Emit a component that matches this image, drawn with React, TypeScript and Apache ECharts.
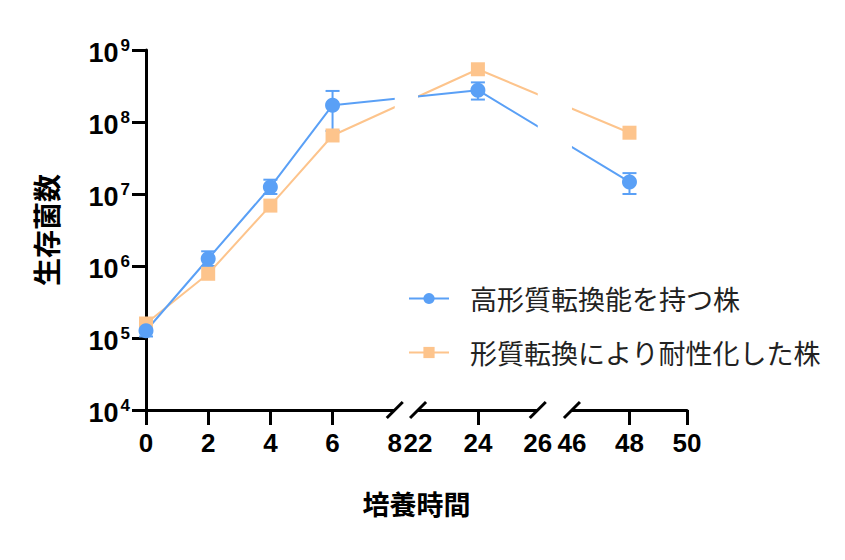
import React, { useEffect, useRef } from "react";
import * as echarts from "echarts";

// ---- data (time in hours, viable counts) ----
const hours = [0, 2, 4, 6, 24, 48];
const highStrain = [1.26e5, 1.26e6, 1.25e7, 1.71e8, 2.77e8, 1.47e7];
const highStrainLow = [1.05e5, 1.0e6, 1.0e7, 7.5e7, 2.05e8, 1.0e7];
const highStrainHigh = [1.45e5, 1.6e6, 1.58e7, 2.7e8, 3.55e8, 1.95e7];
const resistantStrain = [1.59e5, 7.8e5, 6.9e6, 6.5e7, 5.4e8, 7.1e7];

const seriesNames = ["高形質転換能を持つ株", "形質転換により耐性化した株"];
const tickHours = [0, 2, 4, 6, 24, 48, 50];
const labelHours = [0, 2, 4, 6, 8, 22, 24, 26, 46, 48, 50];

// broken x axis: real hour ranges -> display positions
const segments = [
  { t0: 0, t1: 8, d0: 0, d1: 8 },
  { t0: 22, t1: 26, d0: 8.75, d1: 12.6 },
  { t0: 46, t1: 50, d0: 13.7, d1: 17.4 },
];

const toDisplay = (t: number) => {
  for (const s of segments) {
    if (t >= s.t0 && t <= s.t1) return s.d0 + ((t - s.t0) * (s.d1 - s.d0)) / (s.t1 - s.t0);
  }
  return NaN;
};

const BLUE = "#5AA0F6";
const ORANGE = "#FDC48C";

export default function App() {
  const ref = useRef<HTMLDivElement>(null);
  useEffect(() => {
    document.body.style.margin = "0";
    const chart = echarts.init(ref.current!, undefined, { renderer: "svg" });

    const gapData: number[][] = [];
    for (let i = 0; i < segments.length - 1; i++) {
      gapData.push([segments[i].d1, segments[i + 1].d0, 1e4]);
    }
    const breakMarks: number[][] = [];
    segments.forEach((s, i) => {
      if (i > 0) breakMarks.push([s.d0, 1e4]);
      if (i < segments.length - 1) breakMarks.push([s.d1, 1e4]);
    });

    const labelDisplay = labelHours.map(toDisplay);
    const fmtX = (v: number) => {
      for (let i = 0; i < labelHours.length; i++) {
        if (Math.abs(labelDisplay[i] - v) < 1e-6) return String(labelHours[i]);
      }
      return "";
    };

    chart.setOption({
      animation: false,
      grid: { left: 146, right: 158, top: 50, bottom: 150 },
      legend: {
        orient: "vertical",
        left: 403,
        top: 280,
        z: 10,
        itemWidth: 40,
        itemHeight: 14,
        itemGap: 27,
        data: [seriesNames[0], seriesNames[1]],
        formatter: (n: string) => `{a|${n}}`,
        textStyle: {
          rich: {
            a: {
              fontSize: 27,
              lineHeight: 30,
              color: "#222",
              fontFamily: "Noto Sans CJK JP",
              padding: [0, 0, 0, 16],
            },
          },
        },
      },
      xAxis: {
        type: "value",
        min: 0,
        max: segments[segments.length - 1].d1,
        splitLine: { show: false },
        axisLine: { show: true, lineStyle: { color: "#000", width: 3 } },
        axisTick: {
          show: true,
          length: 15,
          lineStyle: { color: "#000", width: 3 },
          customValues: tickHours.map(toDisplay),
        },
        axisLabel: {
          customValues: labelDisplay,
          formatter: fmtX,
          margin: 20,
          color: "#000",
          fontSize: 26,
          fontWeight: "bold",
          fontFamily: "Liberation Sans",
        },
        name: "培養時間",
        nameLocation: "middle",
        nameGap: 80,
        nameTextStyle: {
          fontSize: 27,
          fontWeight: "bold",
          color: "#000",
          fontFamily: "Noto Sans CJK JP",
        },
      },
      yAxis: {
        type: "log",
        logBase: 10,
        min: 1e4,
        max: 1e9,
        interval: 1,
        splitLine: { show: false },
        axisLine: { show: true, lineStyle: { color: "#000", width: 3 } },
        axisTick: { show: true, length: 14, lineStyle: { color: "#000", width: 3 } },
        axisLabel: {
          margin: 16,
          formatter: (v: number) => `{b|10}{s|${Math.round(Math.log10(v))}}`,
          rich: {
            b: { fontSize: 27, fontWeight: "bold", color: "#000", fontFamily: "Liberation Sans", padding: [6, 0, 0, 0] },
            s: {
              fontSize: 17,
              fontWeight: "bold",
              color: "#000",
              fontFamily: "Liberation Sans",
              padding: [0, 0, 10, 2],
            },
          },
        },
        name: "生存菌数",
        nameLocation: "middle",
        nameRotate: 90,
        nameGap: 86,
        nameTextStyle: {
          fontSize: 28,
          fontWeight: "bold",
          color: "#000",
          fontFamily: "Noto Sans CJK JP",
        },
      },
      series: [
        {
          name: seriesNames[1],
          type: "line",
          data: hours.map((h, i) => [toDisplay(h), resistantStrain[i]]),
          symbol: "rect",
          symbolSize: 14,
          lineStyle: { color: ORANGE, width: 2 },
          itemStyle: { color: ORANGE },
          z: 2,
        },
        {
          name: seriesNames[0] + "_err",
          type: "custom",
          coordinateSystem: "cartesian2d",
          data: hours.map((h, i) => [toDisplay(h), highStrainLow[i], highStrainHigh[i]]),
          encode: { x: 0, y: [1, 2] },
          renderItem: (params: any, api: any) => {
            const x = api.value(0);
            const lo = api.coord([x, api.value(1)]);
            const hi = api.coord([x, api.value(2)]);
            const w = 7;
            const style = { stroke: BLUE, lineWidth: 2 };
            return {
              type: "group",
              children: [
                { type: "line", shape: { x1: lo[0], y1: lo[1], x2: hi[0], y2: hi[1] }, style },
                { type: "line", shape: { x1: lo[0] - w, y1: lo[1], x2: lo[0] + w, y2: lo[1] }, style },
                { type: "line", shape: { x1: hi[0] - w, y1: hi[1], x2: hi[0] + w, y2: hi[1] }, style },
              ],
            };
          },
          z: 2,
          silent: true,
        },
        {
          name: seriesNames[0],
          type: "line",
          data: hours.map((h, i) => [toDisplay(h), highStrain[i]]),
          symbol: "circle",
          symbolSize: 15,
          lineStyle: { color: BLUE, width: 2 },
          itemStyle: { color: BLUE },
          z: 2,
        },
        {
          name: "gapMask",
          type: "custom",
          coordinateSystem: "cartesian2d",
          data: gapData,
          encode: { x: [0, 1], y: 2 },
          clip: false,
          silent: true,
          renderItem: (params: any, api: any) => {
            const a = api.coord([api.value(0), 1e9]);
            const m = api.coord([api.value(0), 1e6]);
            const b = api.coord([api.value(1), api.value(2)]);
            const w = b[0] - a[0];
            return {
              type: "group",
              children: [
                { type: "rect", shape: { x: a[0], y: a[1] - 10, width: w, height: m[1] - a[1] + 10 }, style: { fill: "#fff" } },
                { type: "rect", shape: { x: a[0], y: b[1] - 4, width: w, height: 8 }, style: { fill: "#fff" } },
              ],
            };
          },
          z: 3,
        },
        {
          name: "breakMarks",
          type: "custom",
          coordinateSystem: "cartesian2d",
          data: breakMarks,
          encode: { x: 0, y: 1 },
          clip: false,
          silent: true,
          renderItem: (params: any, api: any) => {
            const p = api.coord([api.value(0), api.value(1)]);
            return {
              type: "line",
              shape: { x1: p[0] - 8, y1: p[1] + 8, x2: p[0] + 8, y2: p[1] - 8 },
              style: { stroke: "#000", lineWidth: 3 },
            };
          },
          z: 3,
        },
      ],
    });
    return () => chart.dispose();
  }, []);
  return <div ref={ref} style={{ width: 845, height: 560 }} />;
}
